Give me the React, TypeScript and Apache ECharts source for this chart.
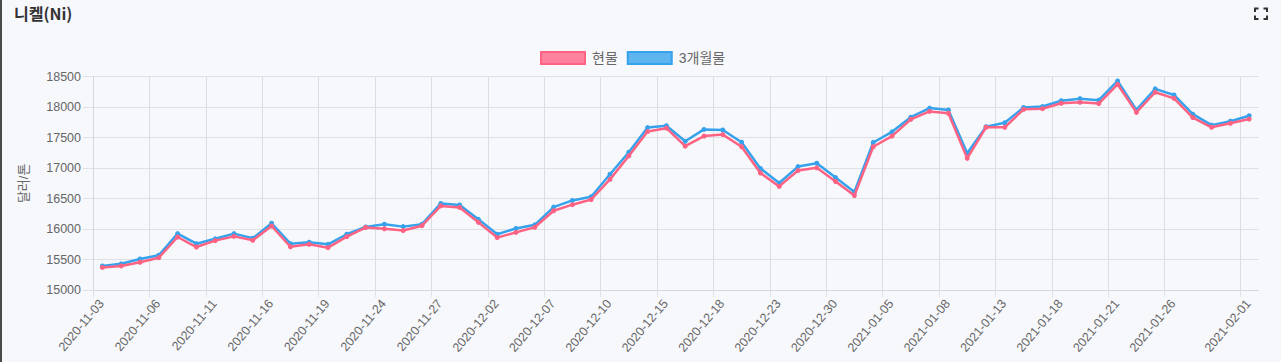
import React, { useEffect, useRef } from "react";
import * as echarts from "echarts";

// Trading days (category axis)
const dates: string[] = [
  "2020-11-03", "2020-11-04", "2020-11-05", "2020-11-06", "2020-11-09", "2020-11-10",
  "2020-11-11", "2020-11-12", "2020-11-13", "2020-11-16", "2020-11-17", "2020-11-18",
  "2020-11-19", "2020-11-20", "2020-11-23", "2020-11-24", "2020-11-25", "2020-11-26",
  "2020-11-27", "2020-11-30", "2020-12-01", "2020-12-02", "2020-12-03", "2020-12-04",
  "2020-12-07", "2020-12-08", "2020-12-09", "2020-12-10", "2020-12-11", "2020-12-14",
  "2020-12-15", "2020-12-16", "2020-12-17", "2020-12-18", "2020-12-21", "2020-12-22",
  "2020-12-23", "2020-12-24", "2020-12-29", "2020-12-30", "2020-12-31", "2021-01-04",
  "2021-01-05", "2021-01-06", "2021-01-07", "2021-01-08", "2021-01-11", "2021-01-12",
  "2021-01-13", "2021-01-14", "2021-01-15", "2021-01-18", "2021-01-19", "2021-01-20",
  "2021-01-21", "2021-01-22", "2021-01-25", "2021-01-26", "2021-01-27", "2021-01-28",
  "2021-01-29", "2021-02-01",
];

// 현물 (cash)
const spot: number[] = [
  15370, 15395, 15455, 15530, 15870, 15705, 15810, 15880, 15815, 16050, 15710, 15750,
  15695, 15875, 16025, 16005, 15975, 16055, 16380, 16355, 16110, 15860, 15945, 16030,
  16300, 16400, 16485, 16815, 17200, 17600, 17655, 17360, 17525, 17550, 17350, 16920,
  16700, 16960, 17005, 16780, 16550, 17350, 17525, 17800, 17930, 17900, 17160, 17670,
  17670, 17965, 17975, 18065, 18080, 18060, 18375, 17915, 18245, 18145, 17830, 17670,
  17735, 17805,
];

// 3개월물 (3-month)
const threeMonth: number[] = [
  15395, 15430, 15510, 15570, 15925, 15760, 15840, 15925, 15850, 16095, 15760, 15785,
  15750, 15915, 16035, 16080, 16040, 16080, 16420, 16395, 16160, 15915, 16010, 16070,
  16360, 16470, 16530, 16900, 17260, 17665, 17695, 17440, 17635, 17625, 17425, 16995,
  16755, 17025, 17080, 16845, 16610, 17420, 17595, 17835, 17985, 17955, 17245, 17680,
  17745, 17995, 18010, 18105, 18140, 18115, 18430, 17955, 18300, 18200, 17885, 17705,
  17770, 17860,
];

// Indexes of shown tick labels
const labelIndexes: number[] = [0, 3, 6, 9, 12, 15, 18, 21, 24, 27, 30, 33, 36, 39, 42, 45, 48, 51, 54, 57, 61];

const yMin = 15000;
const yMax = 18500;
const yStep = 500;

const seriesNames = ["현물", "3개월물"];

const FONT = "'Liberation Sans', Arial, 'Noto Sans CJK KR', sans-serif";
const GRID = "#dfe0e5";
const TEXT = "#666666";

export default function App() {
  const ref = useRef<HTMLDivElement>(null);

  useEffect(() => {
    if (!ref.current) return;
    const chart = echarts.init(ref.current, undefined, { renderer: "svg" });
    const shown = new Set(labelIndexes);
    const intervalFn = (i: number) => shown.has(i);
    const axisCats = [...dates, ""];

    const bracket = (pts: number[][]) => ({
      type: "polyline",
      shape: { points: pts },
      style: { stroke: "#333", lineWidth: 2, fill: null },
    });

    chart.setOption({
      animation: false,
      backgroundColor: "#f7f8fc",
      textStyle: { fontFamily: FONT },
      graphic: [
        { type: "rect", shape: { x: 0, y: 0, width: 2, height: 362 }, style: { fill: "#4a4a4a" } },
        {
          type: "text",
          left: 14,
          top: 5,
          style: {
            text: "니켈(Ni)",
            font: "bold 16px 'Noto Sans CJK KR', sans-serif",
            fill: "#333",
          },
        },
        bracket([[1255, 12], [1255, 8.5], [1258.5, 8.5]]),
        bracket([[1263.5, 8.5], [1267, 8.5], [1267, 12]]),
        bracket([[1255, 15.5], [1255, 19], [1258.5, 19]]),
        bracket([[1263.5, 19], [1267, 19], [1267, 15.5]]),
      ],
      legend: {
        top: 51,
        left: 540,
        padding: 0,
        icon: "rect",
        itemWidth: 44,
        itemHeight: 12,
        itemGap: 9,
        textStyle: { color: TEXT, fontSize: 14, fontFamily: FONT, padding: [0, 0, 0, 2] },
        data: [
          {
            name: seriesNames[0],
            itemStyle: { color: "rgba(255,99,132,0.8)", borderColor: "#ff6384", borderWidth: 2 },
          },
          {
            name: seriesNames[1],
            itemStyle: { color: "rgba(54,162,235,0.8)", borderColor: "#36a2eb", borderWidth: 2 },
          },
        ],
      },
      grid: { left: 93, right: 22.4, top: 76.7, bottom: 72, containLabel: false },
      xAxis: [
        {
          type: "category",
          data: axisCats,
          boundaryGap: false,
          axisLine: { show: true, lineStyle: { color: "#d6d7dc", width: 1 } },
          axisTick: { show: true, interval: intervalFn, length: 7, lineStyle: { color: GRID } },
          splitLine: { show: true, interval: intervalFn, lineStyle: { color: "#dcdde2", width: 1 } },
          axisLabel: {
            interval: intervalFn,
            rotate: 50,
            color: TEXT,
            fontSize: 12.5,
            fontFamily: FONT,
            margin: 4,
            verticalAlign: "top",
            padding: [5, 0, 0, 0],
          },
        },
        {
          type: "category",
          data: dates,
          boundaryGap: true,
          show: false,
        },
      ],
      yAxis: {
        type: "value",
        min: yMin,
        max: yMax,
        interval: yStep,
        name: "달러/톤",
        nameLocation: "middle",
        nameGap: 63,
        nameTextStyle: { color: TEXT, fontSize: 13, fontFamily: FONT },
        axisLine: { show: true, lineStyle: { color: "#d6d7dc" } },
        axisTick: { show: true, length: 10, lineStyle: { color: GRID } },
        splitLine: { show: true, lineStyle: { color: GRID } },
        axisLabel: {
          color: TEXT,
          fontSize: 12.5,
          fontFamily: FONT,
          margin: 12,
          formatter: (v: number) => String(v),
        },
      },
      series: [
        {
          name: seriesNames[1],
          type: "line",
          xAxisIndex: 1,
          data: threeMonth,
          symbol: "circle",
          symbolSize: 5,
          showSymbol: true,
          lineStyle: { color: "#36a2eb", width: 2.5 },
          itemStyle: { color: "#36a2eb" },
          z: 2,
        },
        {
          name: seriesNames[0],
          type: "line",
          xAxisIndex: 1,
          data: spot,
          symbol: "circle",
          symbolSize: 5,
          showSymbol: true,
          lineStyle: { color: "#ff6384", width: 2.5 },
          itemStyle: { color: "#ff6384" },
          z: 3,
        },
      ],
    });

    return () => chart.dispose();
  }, []);

  return (
    <div
      ref={ref}
      style={{ position: "fixed", left: 0, top: 0, width: 1281, height: 362 }}
    />
  );
}
